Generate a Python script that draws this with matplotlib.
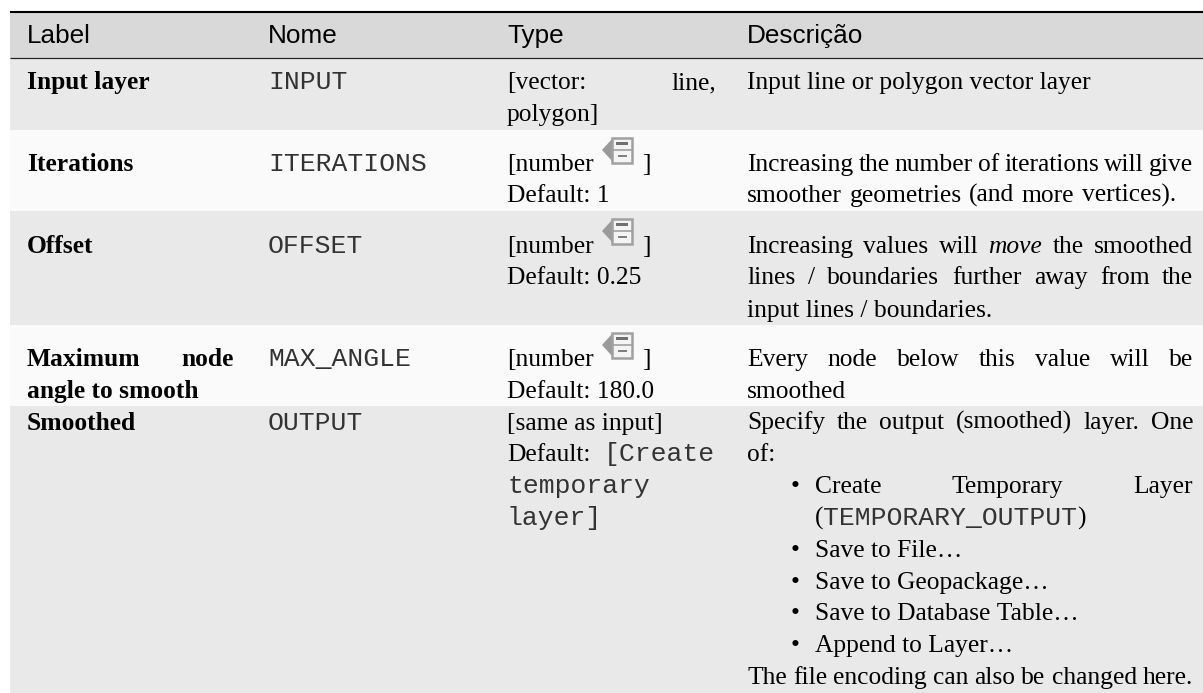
"""Parameter table for the smoothing algorithm, redrawn as text on pixel-scaled axes."""
import matplotlib
matplotlib.use("Agg")
import matplotlib.pyplot as plt
from matplotlib.patches import Polygon, Rectangle

W, H = 1203, 693
SERIF, SANS, MONO = "Liberation Serif", "Liberation Sans", "Liberation Mono"
SIZES = {"serif": 18.4, "bold": 18.4, "italic": 18.4, "sans": 18.8, "mono": 19.0}

headers = ["Label", "Nome", "Type", "Descrição"]
header_x = [27, 268, 507, 747]

band_edges = [58, 130, 211, 325, 406, 693]
band_colors = ["#e9e9e9", "#fafafa", "#e9e9e9", "#fafafa", "#e9e9e9"]

# each line: x, baseline, right edge for justified text (or None), runs of (style, text)
col1_lines = [
    (27, 89, None, [("bold", "Input layer")]),
    (27, 171, None, [("bold", "Iterations")]),
    (27, 253, None, [("bold", "Offset")]),
    (27, 366, 234, [("bold", "Maximum node")]),
    (27, 398, None, [("bold", "angle to smooth")]),
    (27, 430, None, [("bold", "Smoothed")]),
]
col2_lines = [
    (268, 89, None, [("mono", "INPUT")]),
    (268, 171, None, [("mono", "ITERATIONS")]),
    (268, 253, None, [("mono", "OFFSET")]),
    (268, 366, None, [("mono", "MAX_ANGLE")]),
    (268, 430, None, [("mono", "OUTPUT")]),
]
col3_lines = [
    (507, 89, 716, [("serif", "[vector: line,")]),
    (507, 121, None, [("serif", "polygon]")]),
    (507, 171, None, [("serif", "[number")]),
    (642, 171, None, [("serif", "]")]),
    (507, 202, None, [("serif", "Default: 1")]),
    (507, 253, None, [("serif", "[number")]),
    (642, 253, None, [("serif", "]")]),
    (507, 284, None, [("serif", "Default: 0.25")]),
    (507, 366, None, [("serif", "[number")]),
    (642, 366, None, [("serif", "]")]),
    (507, 398, None, [("serif", "Default: 180.0")]),
    (507, 430, None, [("serif", "[same as input]")]),
    (507, 461, 715, [("serif", "Default: "), ("mono", "[Create")]),
    (507, 493, None, [("mono", "temporary")]),
    (507, 525, None, [("mono", "layer]")]),
]
col4_lines = [
    (747, 89, None, [("serif", "Input line or polygon vector layer")]),
    (747, 171, 1193, [("serif", "Increasing the number of iterations will give")]),
    (747, 202, 1176, [("serif", "smoother geometries (and more vertices).")]),
    (747, 253, 1193, [("serif", "Increasing values will "), ("italic", "move"), ("serif", " the smoothed")]),
    (747, 284, 1193, [("serif", "lines / boundaries further away from the")]),
    (747, 317, None, [("serif", "input lines / boundaries.")]),
    (747, 366, 1193, [("serif", "Every node below this value will be")]),
    (747, 398, None, [("serif", "smoothed")]),
    (747, 429, 1193, [("serif", "Specify the output (smoothed) layer. One")]),
    (747, 461, None, [("serif", "of:")]),
    (815, 493, 1193, [("serif", "Create Temporary Layer")]),
    (815, 525, None, [("serif", "("), ("mono", "TEMPORARY_OUTPUT"), ("serif", ")")]),
    (815, 557, None, [("serif", "Save to File…")]),
    (815, 589, None, [("serif", "Save to Geopackage…")]),
    (815, 620, None, [("serif", "Save to Database Table…")]),
    (815, 652, None, [("serif", "Append to Layer…")]),
    (747, 684, 1193, [("serif", "The file encoding can also be changed here.")]),
]
bullet_baselines = [493, 557, 589, 620, 652]
icon_tops = [137, 218, 332]


def _style(style):
    if style == "bold":
        return dict(family=SERIF, weight="bold", color="#000000")
    if style == "italic":
        return dict(family=SERIF, style="italic", color="#000000")
    if style == "mono":
        return dict(family=MONO, color="#333333")
    if style == "sans":
        return dict(family=SANS, color="#000000")
    return dict(family=SERIF, color="#000000")


def _width(ax, rend, s, style):
    t = ax.text(0, 0, s, fontsize=SIZES[style], **_style(style))
    w = t.get_window_extent(rend).width
    t.remove()
    return w


def draw_line(ax, rend, x, y, right, runs):
    # split in words so a justified line can spread its gaps up to the right edge
    words = []
    for style, s in runs:
        if right is None:
            words.append((style, s))
        else:
            words += [(style, p) for p in s.split(" ") if p]
    widths = [_width(ax, rend, s.replace(" ", "\u00a0"), st) for st, s in words]
    gap = 0
    if right is not None:
        gap = (right - x - sum(widths)) / max(len(words) - 1, 1)
    for (style, s), w in zip(words, widths):
        ax.text(x, y, s.replace(" ", "\u00a0"), fontsize=SIZES[style], va="baseline", ha="left", **_style(style))
        x += w + gap


def draw_icon(ax, top):
    # little "data defined" page with the arrow on its left
    ax.add_patch(Polygon([(602, top + 13), (612, top + 2), (612, top + 24)], fc="#9a9a9a", ec="none"))
    ax.add_patch(Rectangle((612, top + 0.5), 20, 25, fc="#f4f4f4", ec="#a0a0a0", lw=1.8))
    ax.plot([612, 632], [top + 12.5, top + 12.5], color="#a0a0a0", lw=1.2)
    ax.add_patch(Rectangle((616, top + 5), 12, 3, fc="#707070", ec="none"))
    ax.add_patch(Rectangle((618, top + 18), 9, 1.5, fc="#808080", ec="none"))


def main():
    fig = plt.figure(figsize=(W / 100, H / 100), dpi=100)
    ax = fig.add_axes([0, 0, 1, 1])
    ax.set_xlim(0, W)
    ax.set_ylim(H, 0)
    ax.axis("off")
    rend = fig.canvas.get_renderer()

    ax.add_patch(Rectangle((10, 13), W - 10, 45, fc="#d9d9d9", ec="none"))
    for y0, y1, c in zip(band_edges[:-1], band_edges[1:], band_colors):
        ax.add_patch(Rectangle((10, y0), W - 10, y1 - y0, fc=c, ec="none"))
    ax.plot([10, W], [12, 12], color="#000000", lw=1.5, solid_capstyle="butt")
    ax.plot([10, W], [58, 58], color="#222222", lw=0.9, solid_capstyle="butt")

    for x, s in zip(header_x, headers):
        ax.text(x, 43, s, fontsize=SIZES["sans"], va="baseline", **_style("sans"))
    for lines in (col1_lines, col2_lines, col3_lines, col4_lines):
        for x, y, right, runs in lines:
            draw_line(ax, rend, x, y, right, runs)
    for y in bullet_baselines:
        ax.text(791, y, "•", fontsize=SIZES["serif"], va="baseline", ha="left", **_style("serif"))
    for top in icon_tops:
        draw_icon(ax, top)

    fig.savefig("out.png", dpi=100)
    plt.close(fig)


if __name__ == "__main__":
    main()
